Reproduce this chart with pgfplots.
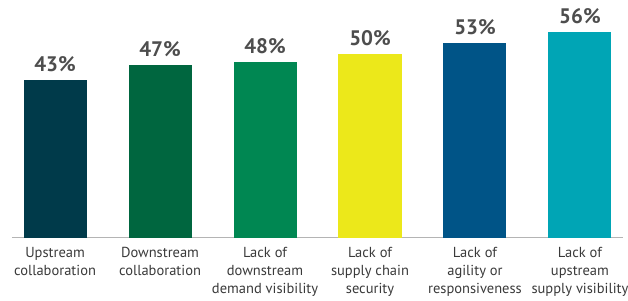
\documentclass[border=0pt]{standalone}
\usepackage{pgfplots}
\pgfplotsset{compat=1.18}
\usepackage{fontspec}
\setmainfont{PT Sans}
\definecolor{c1}{HTML}{003A4A}
\definecolor{c2}{HTML}{00663F}
\definecolor{c3}{HTML}{008752}
\definecolor{c4}{HTML}{ECE81A}
\definecolor{c5}{HTML}{005487}
\definecolor{c6}{HTML}{00A5B5}
\definecolor{numgray}{HTML}{4D4D4D}
\definecolor{labgray}{HTML}{3A3A3A}
\definecolor{axgray}{HTML}{B4B4B4}
\begin{document}
\begin{tikzpicture}
\begin{axis}[
  scale only axis,
  width=611pt, height=237.7pt,
  xmin=-0.41, xmax=5.41, ymin=0, ymax=64.8,
  axis x line*=bottom, axis y line=none,
  x axis line style={axgray, line width=1.2pt, -},
  ybar, bar width=63pt, bar shift=0pt,
  xtick={0,1,2,3,4,5},
  xticklabels={{Upstream\\collaboration},{Downstream\\collaboration},{Lack of\\downstream\\demand visibility},{Lack of\\supply chain\\security},{Lack of\\agility or\\responsiveness},{Lack of\\upstream\\supply visibility}},
  xticklabel style={font=\fontsize{14.5}{18.3}\selectfont, text=labgray, align=center, inner sep=0pt, yshift=-9pt},
  major tick length=0pt,
  /pgf/number format/assume math mode=true,
  nodes near coords={\pgfmathprintnumber{\pgfplotspointmeta}\%},
  every node near coord/.append style={font=\fontsize{21}{24}\selectfont\bfseries, text=numgray, inner sep=0pt, anchor=base, yshift=8.3pt},
  clip=false,
]
\addplot[draw=none, fill=c1] coordinates {(0,43)};
\addplot[draw=none, fill=c2] coordinates {(1,47)};
\addplot[draw=none, fill=c3] coordinates {(2,48)};
\addplot[draw=none, fill=c4] coordinates {(3,50)};
\addplot[draw=none, fill=c5] coordinates {(4,53)};
\addplot[draw=none, fill=c6] coordinates {(5,56)};
\end{axis}
\pgfresetboundingbox
\path (-12pt,-62.3pt) rectangle (616pt,237.7pt);
\end{tikzpicture}
\end{document}
